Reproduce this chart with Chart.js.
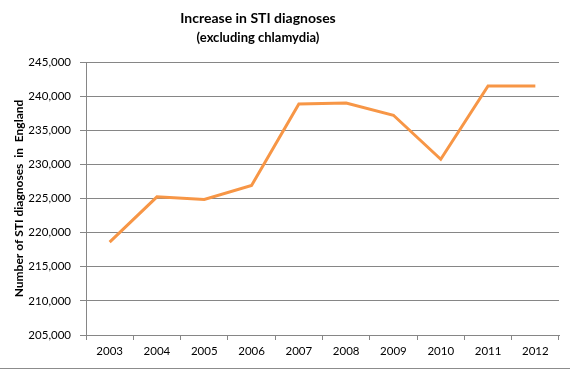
<!DOCTYPE html>
<html>
<head>
<meta charset="utf-8">
<script src="https://cdn.jsdelivr.net/npm/chart.js@4/dist/chart.umd.min.js"></script>
<style>
    html, body { margin: 0; padding: 0; background: #fff; }
    #wrap {
        width: 570px;
        height: 368px;
        border-bottom: 1px solid #8c8c8c;
        position: relative;
    }
</style>
</head>
<body>
<div id="wrap"><canvas id="sti-chart"></canvas></div>
<script>
// --- chart data --- //
const years = ["2003", "2004", "2005", "2006", "2007", "2008", "2009", "2010", "2011", "2012"];
const diagnoses = [218600, 225250, 224850, 226900, 238850, 239000, 237200, 230750, 241500, 241500];
const yTicks = [205000, 210000, 215000, 220000, 225000, 230000, 235000, 240000, 245000];

const titleLines = ["Increase in STI diagnoses", "(excluding chlamydia)"];
const gridGrey = '#868686';

// draw the two-line heading a bit left of centre, like the excel original
const headingPlugin = {
    id: 'heading',
    afterDraw(chart) {
        const ctx = chart.ctx;
        ctx.save();
        ctx.fillStyle = '#000';
        ctx.textAlign = 'center';
        ctx.textBaseline = 'middle';
        ctx.font = 'bold 14px Lato';
        ctx.fillText(titleLines[0], 258, 18);
        ctx.font = 'bold 13px Lato';
        ctx.fillText(titleLines[1], 258, 38);
        ctx.restore();
    }
};

const stiCanvas = document.getElementById("sti-chart");

let stiChart = new Chart(stiCanvas, {
    type: 'line',
    data: {
        labels: years,
        datasets: [{
            data: diagnoses,
            borderColor: '#F79646',
            borderWidth: 3,
            pointRadius: 0,
            tension: 0,
            fill: false
        }]
    },
    options: {
        responsive: true,
        maintainAspectRatio: false,
        animation: false,
        layout: {
            padding: { top: 62, right: 11, left: 0, bottom: 0 }
        },
        plugins: {
            legend: { display: false },
            tooltip: { enabled: false }
        },
        scales: {
            x: {
                offset: true,
                afterFit: scale => { scale.height = 33; },
                grid: {
                    offset: true,
                    drawOnChartArea: false,
                    color: gridGrey,
                    tickLength: 5
                },
                border: { color: gridGrey },
                ticks: {
                    color: '#000',
                    font: { family: 'Lato', size: 11.5 },
                    padding: 4,
                    maxRotation: 0
                }
            },
            y: {
                min: yTicks[0],
                max: yTicks[yTicks.length - 1],
                afterFit: scale => { scale.width = 86; },
                afterBuildTicks: scale => {
                    scale.ticks = yTicks.map(v => ({ value: v }));
                },
                grid: {
                    color: gridGrey,
                    tickLength: 6
                },
                border: { color: gridGrey },
                ticks: {
                    color: '#000',
                    font: { family: 'Lato', size: 11.5 },
                    padding: 9,
                    callback: v => v.toLocaleString('en-US')
                },
                title: {
                    display: true,
                    text: 'Number of STI diagnoses  in  England',
                    color: '#000',
                    font: { family: 'Lato', size: 12, weight: 'bold' },
                    padding: { top: 12, bottom: 0 }
                }
            }
        }
    },
    plugins: [headingPlugin]
});
</script>
</body>
</html>
